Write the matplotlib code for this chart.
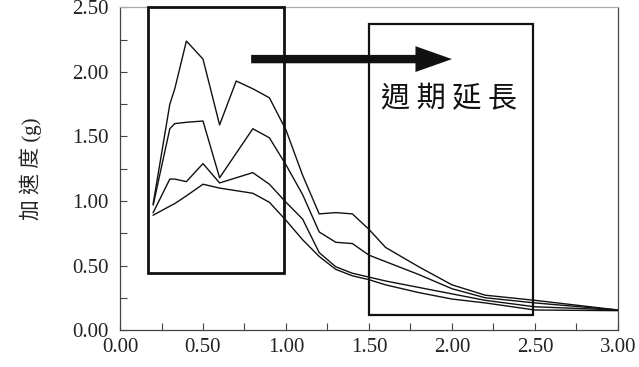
import matplotlib
matplotlib.use('Agg')
import matplotlib.pyplot as plt
from matplotlib.patches import Rectangle, FancyArrow
from matplotlib.ticker import MultipleLocator, FormatStrFormatter

# periods (s) and spectral acceleration (g) for the four curves
periods = [0.2, 0.3, 0.33, 0.4, 0.5, 0.6, 0.7, 0.8, 0.9, 1.0, 1.1, 1.2, 1.3, 1.4,
           1.5, 1.6, 1.8, 2.0, 2.2, 2.5, 3.0]
curve_a = [0.98, 1.75, 1.87, 2.24, 2.10, 1.59, 1.93, 1.87, 1.80, 1.55, 1.20, 0.90, 0.91, 0.90,
           0.78, 0.64, 0.49, 0.35, 0.27, 0.23, 0.155]
curve_b = [0.97, 1.56, 1.60, 1.61, 1.62, 1.18, 1.37, 1.56, 1.49, 1.28, 1.05, 0.76, 0.68, 0.67,
           0.58, 0.53, 0.43, 0.32, 0.25, 0.21, 0.155]
curve_c = [0.91, 1.17, 1.17, 1.15, 1.29, 1.14, 1.18, 1.22, 1.13, 0.99, 0.86, 0.60, 0.49, 0.44,
           0.41, 0.38, 0.33, 0.28, 0.23, 0.18, 0.155]
curve_d = [0.89, 0.96, 0.98, 1.04, 1.13, 1.10, 1.08, 1.06, 0.99, 0.85, 0.70, 0.57, 0.47, 0.42,
           0.39, 0.35, 0.29, 0.24, 0.21, 0.155, 0.15]

# highlight boxes (x0, y0, x1, y1) and arrow
short_box = [0.167, 0.44, 0.99, 2.50]
long_box = [1.50, 0.12, 2.49, 2.37]
arrow_x = [0.79, 2.0]
arrow_y = 2.10
label_text = "週 期 延 長"
ylabel_text = "加 速 度 (g)"

serif = ['Liberation Serif', 'Noto Sans CJK TC']

fig = plt.figure(figsize=(6.39, 3.67), dpi=100)
ax = fig.add_axes([0.1878, 0.1008, 0.7793, 0.8788])

for ys in [curve_a, curve_b, curve_c, curve_d]:
    ax.plot(periods, ys, color='#111111', lw=1.0)

for x0, y0, x1, y1, lw in [(*short_box, 2.0), (*long_box, 1.6)]:
    ax.add_patch(Rectangle((x0, y0), x1 - x0, y1 - y0, fill=False,
                           edgecolor='#111111', lw=lw, clip_on=False, zorder=3))

ax.add_patch(FancyArrow(arrow_x[0], arrow_y, arrow_x[1] - arrow_x[0], 0,
                        width=0.065, head_width=0.2, head_length=0.22,
                        length_includes_head=True, color='#111111', lw=0, zorder=4))

ax.text(1.98, 1.79, label_text, fontsize=21, ha='center', va='center',
        family=['Noto Sans CJK TC'], color='#111111')

ax.set_xlim(0, 3.0)
ax.set_ylim(0, 2.5)
ax.xaxis.set_major_locator(MultipleLocator(0.5))
ax.xaxis.set_minor_locator(MultipleLocator(0.25))
ax.yaxis.set_major_locator(MultipleLocator(0.5))
ax.yaxis.set_minor_locator(MultipleLocator(0.25))
ax.xaxis.set_major_formatter(FormatStrFormatter('%.2f'))
ax.yaxis.set_major_formatter(FormatStrFormatter('%.2f'))
ax.tick_params(which='both', direction='in', length=5, width=0.8, color='#444444',
               labelsize=15, labelcolor='#222222')
ax.tick_params(axis='x', pad=6)
ax.tick_params(axis='y', pad=8)
for lab in ax.get_xticklabels() + ax.get_yticklabels():
    lab.set_family(serif)

ax.spines['top'].set_color('#aaaaaa')
ax.spines['right'].set_color('#444444')
ax.spines['left'].set_color('#444444')
ax.spines['bottom'].set_color('#444444')
for s in ax.spines.values():
    s.set_linewidth(0.9)

ax.set_ylabel(ylabel_text, fontsize=15, family=serif, labelpad=22, color='#222222')

fig.savefig('out.png', dpi=100)
